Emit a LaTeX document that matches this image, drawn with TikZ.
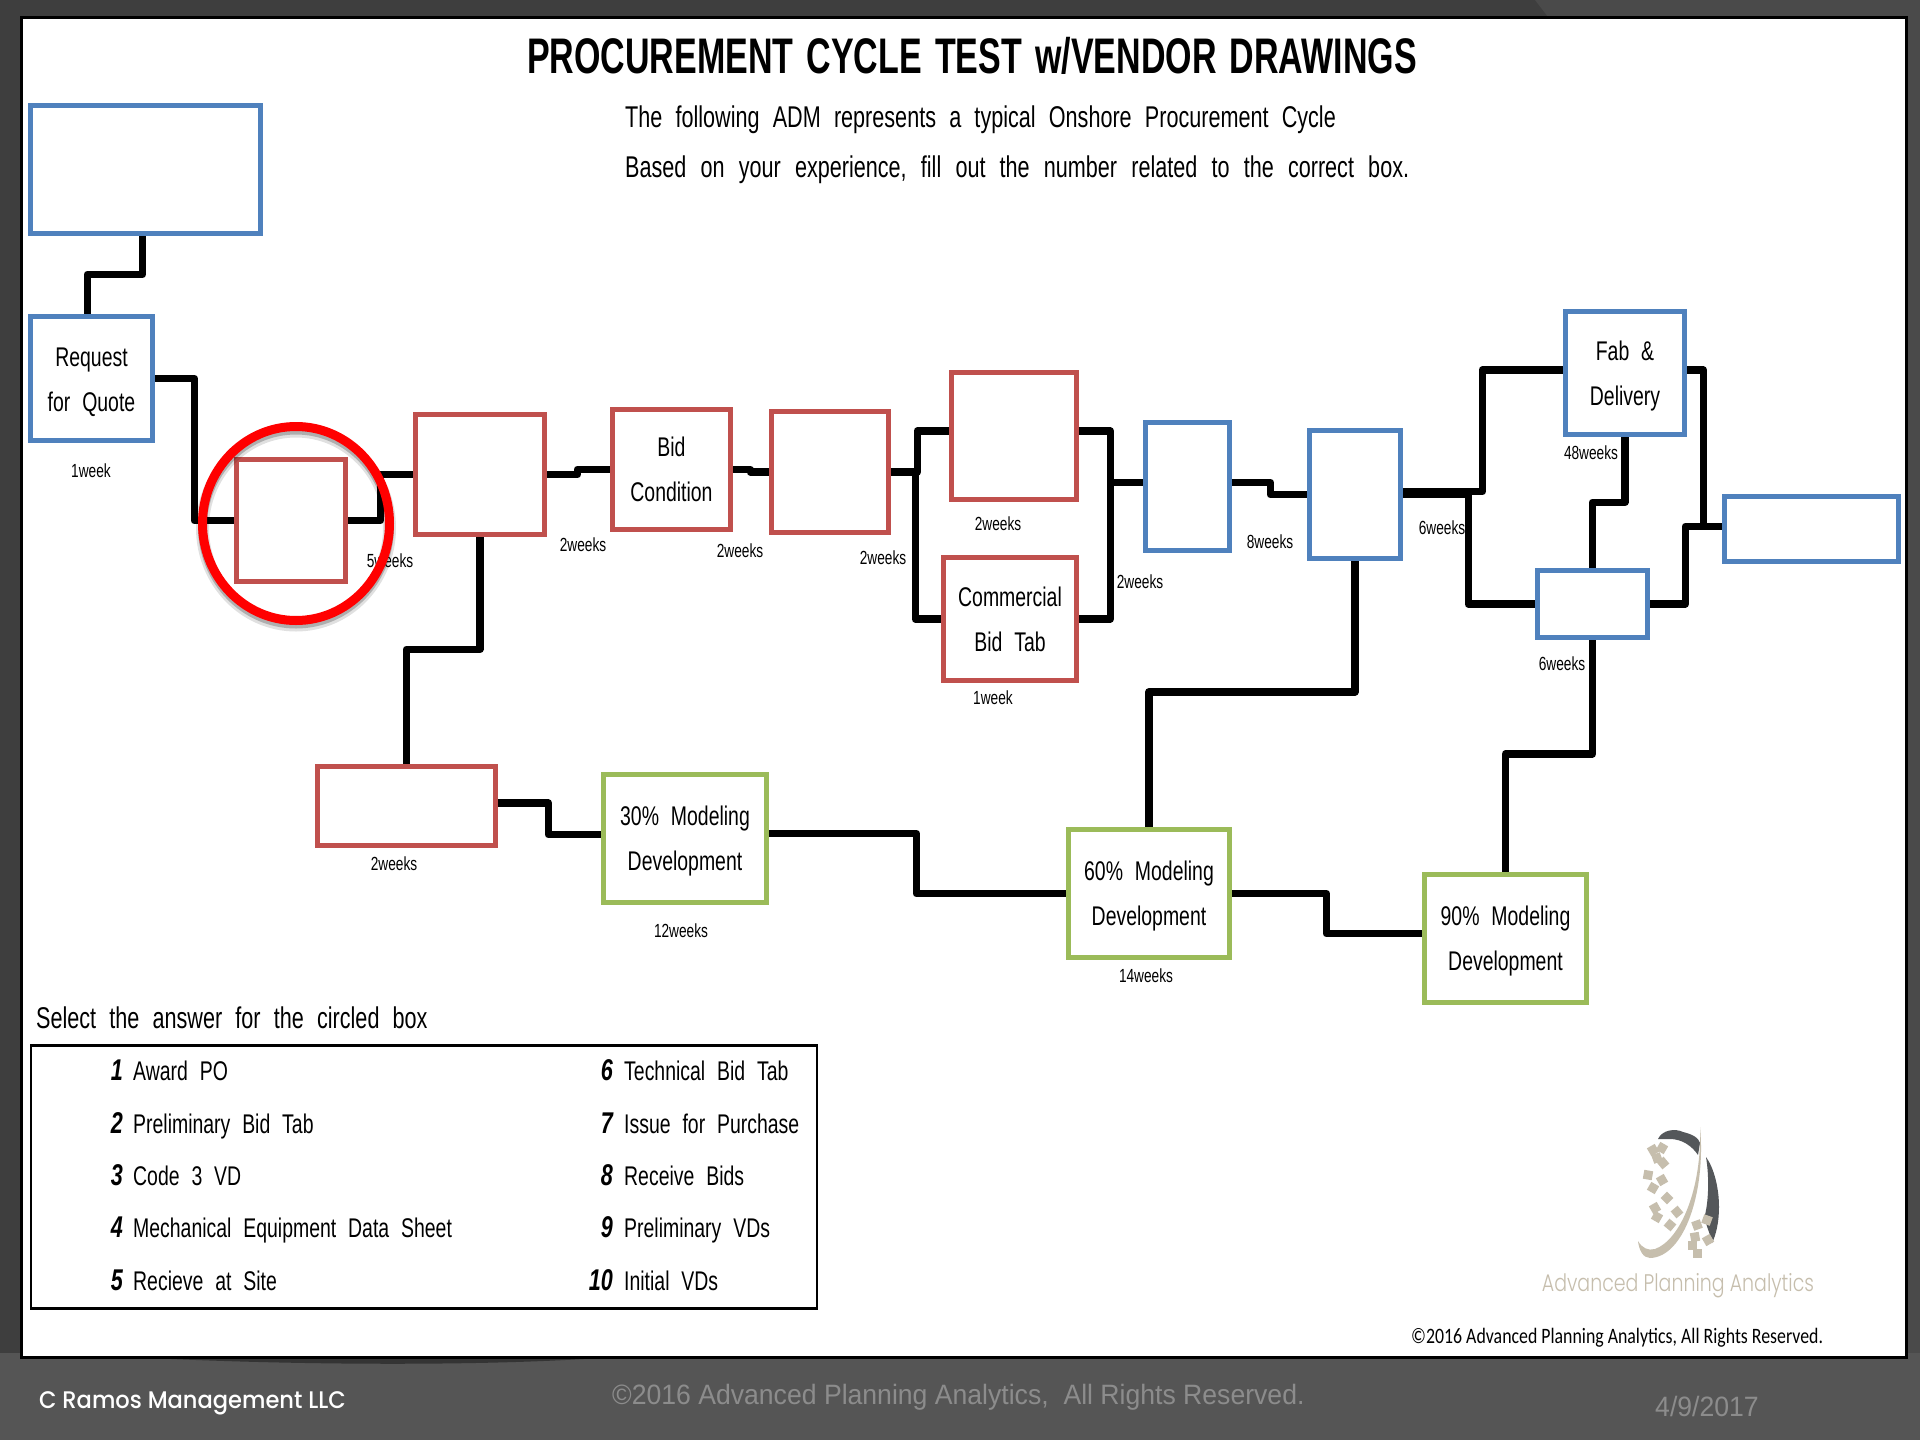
\documentclass[tikz,border=0pt]{standalone}
\usepackage{fontspec}
\usepackage{xcolor}
\usepackage{tikz}
\usetikzlibrary{arrows.meta,positioning,shapes.geometric,calc}
\setmainfont{Liberation Sans}
\newfontfamily\narrowfont[FakeStretch=0.72,WordSpace=2.2]{Liberation Sans}
\newfontfamily\titlefont[FakeStretch=0.68,WordSpace=1.4]{Liberation Sans}
\newfontfamily\footfont[FakeStretch=0.95]{Liberation Sans}
\newfontfamily\logofont[FakeStretch=0.79]{Poppins Light}
\newfontfamily\companyfont[FakeStretch=0.94]{Poppins Medium}
\newfontfamily\noticefont[FakeStretch=0.81]{Carlito}
\definecolor{slatebg}{HTML}{3E3E3E}
\definecolor{slateside}{HTML}{4A4A4A}
\definecolor{slatefoot}{HTML}{555555}
\definecolor{slateshade}{HTML}{343434}
\definecolor{footgrey}{HTML}{8C8C8C}
\definecolor{boxblue}{HTML}{4F81BD}
\definecolor{boxred}{HTML}{C0504D}
\definecolor{boxgreen}{HTML}{9BBB59}
\definecolor{logotan}{HTML}{C6BEAD}
\definecolor{logodark}{HTML}{54575A}
\tikzset{
  plainbox/.style={draw,fill=white,line width=5.5pt,inner sep=0pt,align=center,
                   font=\narrowfont\fontsize{27}{45}\selectfont},
  bluebox/.style={plainbox,draw=boxblue},
  redbox/.style={plainbox,draw=boxred},
  greenbox/.style={plainbox,draw=boxgreen},
  link/.style={draw=black,line width=7.5pt,line join=round},
  weeks/.style={inner sep=0pt,font=\narrowfont\fontsize{19}{19}\selectfont},
  headline/.style={inner sep=0pt,anchor=base west,
                   font=\narrowfont\fontsize{30}{30}\selectfont},
  answer/.style={inner sep=0pt,anchor=base west,
                 font=\narrowfont\fontsize{27}{27}\selectfont},
  answerno/.style={inner sep=0pt,anchor=base east,
                   font=\narrowfont\bfseries\itshape\fontsize{30}{30}\selectfont},
  footline/.style={inner sep=0pt,anchor=base west,footgrey,
                   font=\footfont\fontsize{28}{28}\selectfont},
}

\begin{document}
\begin{tikzpicture}[x=1pt,y=-1pt]
  \useasboundingbox (0,0) rectangle (1920,1440);
  \fill[slatebg] (0,0) rectangle (1920,1440);
  \fill[slateside] (1535,0) -- (1920,0) -- (1920,1440) -- (1570,1440) -- (1630,1357)
    -- (1548,17) -- cycle;
  \fill[slatefoot] (0,1353) -- (1920,1353) -- (1920,1440) -- (0,1440) -- cycle;
  \fill[slateshade] (130,1357) .. controls (300,1366) and (500,1366) .. (612,1357) -- cycle;
  \fill[white,draw=black,line width=3pt] (21,17) rectangle (1906,1357);

  \node[inner sep=0pt,anchor=base,font=\titlefont\bfseries\fontsize{50}{50}\selectfont]
    (title) at (972,73) {PROCUREMENT CYCLE TEST w/VENDOR DRAWINGS};
  \node[headline] (intro) at (625,127) {The following ADM represents a typical Onshore Procurement Cycle};
  \node[headline] (ask) at (625,177) {\spaceskip=14.2pt Based on your experience, fill out the number related to the correct box.};

  \node[bluebox,minimum width=230,minimum height=128] (blank) at (145.5,169.5) {};
  \node[bluebox,minimum width=122,minimum height=124,text height=72pt] (quote) at (91.5,378.5) {Request\\for Quote};
  \node[redbox,minimum width=109,minimum height=122] (circled) at (291,520.5) {};
  \node[redbox,minimum width=129,minimum height=120] (award) at (480,474.5) {};
  \node[redbox,minimum width=118,minimum height=120] (bidcond) at (671.5,469.5) {Bid\\Condition};
  \node[redbox,minimum width=117,minimum height=121] (receive) at (830,472) {};
  \node[redbox,minimum width=125,minimum height=127] (techtab) at (1014,436) {};
  \node[redbox,minimum width=133,minimum height=123] (commtab) at (1010,619) {Commercial\\Bid Tab};
  \node[bluebox,minimum width=84,minimum height=128] (bluea) at (1187.5,486.5) {};
  \node[bluebox,minimum width=91,minimum height=128] (blueb) at (1355,494.5) {};
  \node[bluebox,minimum width=119,minimum height=123,text height=70pt] (fab) at (1625,373) {Fab \&\\Delivery};
  \node[bluebox,minimum width=110,minimum height=67] (bluec) at (1592.5,604) {};
  \node[bluebox,minimum width=174,minimum height=65] (site) at (1811.5,529) {};
  \node[redbox,minimum width=178,minimum height=79] (datasheet) at (406.5,806) {};
  \node[greenbox,minimum width=163,minimum height=128,text height=70pt] (modela) at (685,838.5) {30\% Modeling\\Development};
  \node[greenbox,minimum width=161,minimum height=128,text height=70pt] (modelb) at (1149,893.5) {60\% Modeling\\Development};
  \node[greenbox,minimum width=162,minimum height=128,text height=70pt] (modelc) at (1505.5,938.5) {90\% Modeling\\Development};

  \draw[link] ([xshift=-3pt]blank.south) -- ++(0,38) -| ([xshift=-4pt]quote.north);
  \draw[link] (quote.east) -- ++(39,0) |- (circled.west);
  \draw[link] (circled.east) -- ++(32,0) |- (award.west);
  \draw[link] (award.east) -- ++(30,0) |- (bidcond.west);
  \draw[link] (bidcond.east) -- ++(17,0) |- (receive.west);
  \draw[link] (receive.east) -- ++(26,0) |- ([yshift=5pt]techtab.west);
  \draw[link] (receive.east) -- ++(24,0) |- (commtab.west);
  \draw[link] ([yshift=5pt]techtab.east) -- ++(31,0) |- ([yshift=4pt]bluea.west);
  \draw[link] (commtab.east) -- ++(31,0) |- ([yshift=4pt]bluea.west);
  \draw[link] ([yshift=4pt]bluea.east) -- ++(38,0) |- (blueb.west);
  \draw[link] ([yshift=3pt]blueb.east) -- ++(79,0) |- ([yshift=3pt]fab.west);
  \draw[link] (blueb.east) -- ++(65,0) |- (bluec.west);
  \draw[link] (fab.south) -- ++(0,65) -| (bluec.north);
  \draw[link] ([yshift=3pt]fab.east) -- ++(16,0) |- ([yshift=2.5pt]site.west);
  \draw[link] (bluec.east) -- ++(35,0) |- ([yshift=2.5pt]site.west);
  \draw[link] (award.south) -- ++(0,112) -| (datasheet.north);
  \draw[link] ([yshift=3pt]datasheet.east) -- ++(50,0) |- ([yshift=4pt]modela.west);
  \draw[link] ([yshift=5pt]modela.east) -- ++(147,0) |- (modelb.west);
  \draw[link] (modelb.north) -- ++(0,-135) -| (blueb.south);
  \draw[link] (modelb.east) -- ++(94,0) |- ([yshift=5pt]modelc.west);
  \draw[link] (modelc.north) -- ++(0,-118) -| (bluec.south);

  \node[weeks] (wquote) at (91,471) {1week};
  \node[weeks] (wcircled) at (390,561) {5weeks};
  \node[weeks] (waward) at (583,545) {2weeks};
  \node[weeks] (wbid) at (740,551) {2weeks};
  \node[weeks] (wreceive) at (883,558) {2weeks};
  \node[weeks] (wtech) at (998,524) {2weeks};
  \node[weeks] (wcomm) at (993,698) {1week};
  \node[weeks] (wmerge) at (1140,582) {2weeks};
  \node[weeks] (wbluea) at (1270,542) {8weeks};
  \node[weeks] (wblueb) at (1442,528) {6weeks};
  \node[weeks] (wfab) at (1591,453) {48weeks};
  \node[weeks] (wbluec) at (1562,664) {6weeks};
  \node[weeks] (wdata) at (394,864) {2weeks};
  \node[weeks] (wmodela) at (681,931) {12weeks};
  \node[weeks] (wmodelb) at (1146,976) {14weeks};

  \draw[black,opacity=0.12,line width=13pt] (296,528) ellipse (93.5 and 97);
  \draw[black,opacity=0.22,line width=9pt] (296,527) ellipse (93.5 and 97);
  \node[ellipse,draw=red,line width=9pt,inner sep=0pt,minimum width=187,minimum height=194]
    (ring) at (296,523.5) {};

  \node[headline] (select) at (36,1028) {Select the answer for the circled box};
  \node[draw=black,line width=1.2pt,inner sep=0pt,minimum width=786,minimum height=262]
    (answers) at (424,1177) {};
  \draw[line width=3pt] (answers.north west) -- (answers.north east);
  \draw[line width=3pt] (answers.south west) -- (answers.south east);
  \foreach \nr/\txt/\rowy in {1/Award PO/1080,2/Preliminary Bid Tab/1133,3/Code 3 VD/1185,
                              4/Mechanical Equipment Data Sheet/1237,5/Recieve at Site/1290} {
    \node[answerno] (no\nr) at (123,\rowy) {\nr};
    \node[answer] (ans\nr) at (133,\rowy) {\txt};
  }
  \foreach \nr/\txt/\rowy in {6/Technical Bid Tab/1080,7/Issue for Purchase/1133,8/Receive Bids/1185,
                              9/Preliminary VDs/1237,10/Initial VDs/1290} {
    \node[answerno] (no\nr) at (613,\rowy) {\nr};
    \node[answer] (ans\nr) at (624,\rowy) {\txt};
  }

  \fill[logodark] (1658,1139) .. controls (1662,1130) and (1675,1128) .. (1683,1132)
    .. controls (1692,1134) and (1699,1138) .. (1700,1143) -- (1698,1155)
    .. controls (1692,1146) and (1682,1139) .. (1670,1139) -- cycle;
  \fill[logodark] (1706,1157) .. controls (1714,1168) and (1719,1188) .. (1719,1207)
    .. controls (1719,1222) and (1716,1235) .. (1712,1243)
    .. controls (1710,1232) and (1705,1225) .. (1705,1215)
    .. controls (1709,1198) and (1709,1175) .. (1706,1157) -- cycle;
  \fill[logotan] (1700,1127) .. controls (1706,1190) and (1685,1257) .. (1650,1258)
    .. controls (1643,1258) and (1639,1250) .. (1638,1241)
    .. controls (1642,1248) and (1648,1251) .. (1655,1249)
    .. controls (1680,1240) and (1702,1190) .. (1700,1127) -- cycle;
  \foreach \bx/\by/\tilt in {1653/1150/30,1662/1148/60,1657/1158/20,1648/1175/80,1663/1163/40,
                             1662/1180/30,1653/1188/60,1667/1198/45,1655/1208/30,1657/1217/60,
                             1670/1225/50,1677/1212/40,1695/1237/10,1692/1245/0,1697/1225/20,
                             1697/1253/0,1707/1220/70,1708/1240/30} {
    \fill[logotan,rotate around={\tilt:(\bx,\by)}] (\bx-4.5,\by-4.5) rectangle (\bx+4.5,\by+4.5);
  }
  \node[inner sep=0pt,anchor=base,logotan,font=\logofont\fontsize{24}{24}\selectfont]
    (logoname) at (1678,1291) {Advanced Planning Analytics};
  \node[inner sep=0pt,anchor=base west,font=\noticefont\fontsize{22}{22}\selectfont]
    (notice) at (1411,1343) {©2016 Advanced Planning Analytics, All Rights Reserved.};

  \node[inner sep=0pt,anchor=base west,white,font=\companyfont\fontsize{24}{24}\selectfont]
    (company) at (39,1408) {C Ramos Management LLC};
  \node[footline] (footnote) at (612,1404) {©2016 Advanced Planning Analytics,\ \ All Rights Reserved.};
  \node[footline] (footdate) at (1655,1416) {4/9/2017};
\end{tikzpicture}
\end{document}
